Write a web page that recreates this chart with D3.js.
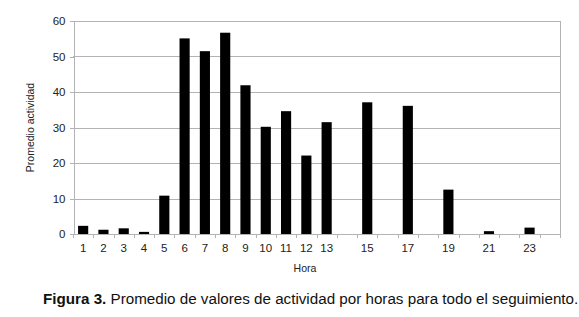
<!DOCTYPE html>
<meta charset="utf-8">
<style>
body{ margin:0; background:#fff; }
text{ font-family:"Liberation Sans", Arial, sans-serif; fill:#222; }
.grid line{ stroke:#b3b3b3; stroke-width:1px; shape-rendering:crispEdges; }
.axis path, .axis line{ stroke:#b3b3b3; shape-rendering:crispEdges; }
</style>
<body>
<script src="https://cdn.jsdelivr.net/npm/d3@7"></script>
<script>
// hours 1..24, values (null = no bar)
var hours = ["1","2","3","4","5","6","7","8","9","10","11","12","13","14","15","16","17","18","19","20","21","22","23","24"];
var values = [2.3, 1.2, 1.6, 0.6, 10.8, 55.1, 51.5, 56.7, 41.9, 30.2, 34.6, 22.1, 31.5, null, 37.1, null, 36.1, null, 12.5, null, 0.8, null, 1.8, null];
var shownLabels = ["1","2","3","4","5","6","7","8","9","10","11","12","13","15","17","19","21","23"];
var yTicks = [0, 10, 20, 30, 40, 50, 60];

var W = 579, H = 317;
var m = {left:73, right:19, top:21, bottom:83};

var svg = d3.select("body").append("svg").attr("width", W).attr("height", H);

var x = d3.scaleBand().domain(hours).range([m.left, W - m.right]).paddingInner(0.5).paddingOuter(0.25);
var y = d3.scaleLinear().domain([0, 60]).range([H - m.bottom, m.top]);

// grid
svg.append("g").attr("class", "grid").selectAll("line").data(yTicks).enter().append("line")
  .attr("x1", m.left).attr("x2", W - m.right)
  .attr("y1", function(d){ return Math.round(y(d)) + 0.5; }).attr("y2", function(d){ return Math.round(y(d)) + 0.5; });

// right border
svg.append("line").attr("x1", W - m.right + 0.5).attr("x2", W - m.right + 0.5)
  .attr("y1", y(60)).attr("y2", y(0) + 4).attr("stroke", "#b3b3b3").style("shape-rendering", "crispEdges");

// bars
svg.append("g").selectAll("rect").data(hours.map(function(h, i){ return {h:h, v:values[i]}; }).filter(function(d){ return d.v != null; }))
  .enter().append("rect")
  .attr("x", function(d){ return x(d.h); }).attr("width", x.bandwidth())
  .attr("y", function(d){ return y(d.v); }).attr("height", function(d){ return y(0) - y(d.v); })
  .attr("fill", "#000");

// y axis
var yAxis = svg.append("g").attr("class", "axis").attr("transform", "translate(" + (m.left + 0.5) + ",0)")
  .call(d3.axisLeft(y).tickValues(yTicks).tickSize(4).tickPadding(4));
yAxis.selectAll("text").style("font-size", "11.5px").attr("fill", "#222");

// x axis: ticks at band boundaries, labels at band centres
var xg = svg.append("g").attr("class", "axis");
xg.append("line").attr("x1", m.left).attr("x2", W - m.right)
  .attr("y1", Math.round(y(0)) + 0.5).attr("y2", Math.round(y(0)) + 0.5);
var step = x.step();
xg.selectAll(".tk").data(d3.range(hours.length + 1)).enter().append("line").attr("class", "tk")
  .attr("x1", function(i){ return Math.round(m.left + i * step) + 0.5; })
  .attr("x2", function(i){ return Math.round(m.left + i * step) + 0.5; })
  .attr("y1", y(0)).attr("y2", y(0) + 4);
xg.selectAll("text").data(shownLabels).enter().append("text")
  .attr("x", function(d){ return x(d) + x.bandwidth() / 2; }).attr("y", y(0) + 18)
  .attr("text-anchor", "middle").style("font-size", "11.5px").text(function(d){ return d; });

// axis titles
svg.append("text").attr("x", 305).attr("y", 272).attr("text-anchor", "middle")
  .style("font-size", "10.5px").text("Hora");
svg.append("text").attr("transform", "translate(34," + ((y(0) + y(60)) / 2) + ") rotate(-90)")
  .attr("text-anchor", "middle").style("font-size", "10.5px").text("Promedio actividad");

// caption
var cap = svg.append("text").attr("x", 43).attr("y", 304).style("font-size", "15.2px");
cap.append("tspan").style("font-weight", "bold").style("fill", "#111").text("Figura 3.");
cap.append("tspan").style("fill", "#111").text(" Promedio de valores de actividad por horas para todo el seguimiento.");
</script>
</body>
